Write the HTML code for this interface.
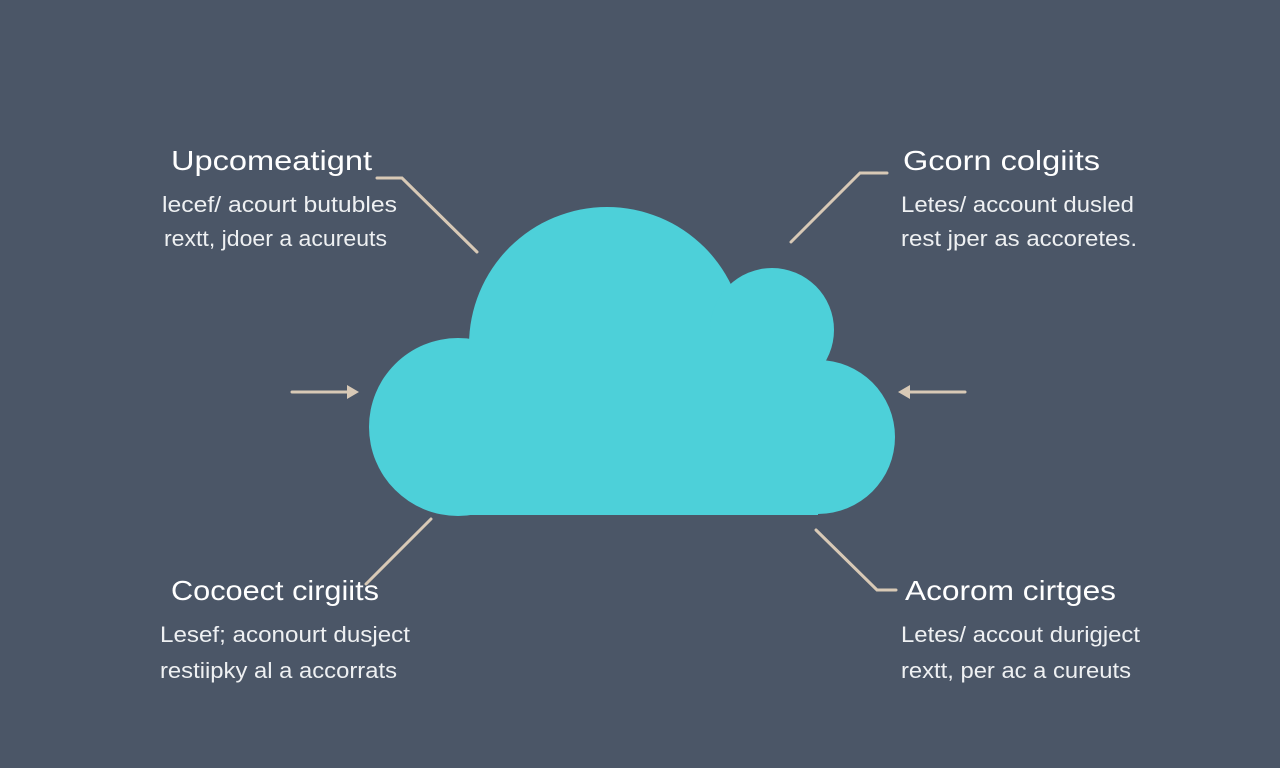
<!DOCTYPE html>
<html><head><meta charset="utf-8"><style>
html,body{margin:0;padding:0;width:1280px;height:768px;overflow:hidden;background:#4b5667;}
svg{display:block}
text{font-family:"Liberation Sans",sans-serif;}
</style></head><body>
<svg width="1280" height="768" viewBox="0 0 1280 768">
<rect width="1280" height="768" fill="#4b5667"/>
<g fill="#4dd0d9">
<circle cx="458" cy="427" r="89"/>
<circle cx="607" cy="345" r="138"/>
<circle cx="772" cy="330" r="62"/>
<circle cx="818" cy="437" r="77"/>
<rect x="458" y="340" width="360" height="175"/>
<rect x="470" y="330" width="340" height="100"/>
</g>
<g stroke="#d8c9b6" stroke-width="3" fill="none" stroke-linecap="round">
<polyline points="377,178 402,178 477,252"/>
<polyline points="887,173 860,173 791,242"/>
<line x1="292" y1="392" x2="350" y2="392"/>
<line x1="965" y1="392" x2="906" y2="392"/>
<line x1="431" y1="519" x2="366" y2="584"/>
<polyline points="816,530 877,590 896,590"/>
</g>
<g fill="#d8c9b6">
<polygon points="359,392 347,385 347,399"/>
<polygon points="898,392 910,385 910,399"/>
</g>
<g fill="#ffffff" font-size="28" lengthAdjust="spacingAndGlyphs">
<text x="171" y="170" textLength="201" lengthAdjust="spacingAndGlyphs">Upcomeatignt</text>
<text x="903" y="170" textLength="197" lengthAdjust="spacingAndGlyphs">Gcorn colgiits</text>
<text x="171" y="600" textLength="208" lengthAdjust="spacingAndGlyphs">Cocoect cirgiits</text>
<text x="905" y="600" textLength="211" lengthAdjust="spacingAndGlyphs">Acorom cirtges</text>
</g>
<g fill="#eef0f2" font-size="22">
<text x="162" y="212" textLength="235" lengthAdjust="spacingAndGlyphs">lecef/ acourt butubles</text>
<text x="164" y="246" textLength="223" lengthAdjust="spacingAndGlyphs">rextt, jdoer a acureuts</text>
<text x="901" y="212" textLength="233" lengthAdjust="spacingAndGlyphs">Letes/ account dusled</text>
<text x="901" y="246" textLength="236" lengthAdjust="spacingAndGlyphs">rest jper as accoretes.</text>
<text x="160" y="642" textLength="250" lengthAdjust="spacingAndGlyphs">Lesef; aconourt dusject</text>
<text x="160" y="678" textLength="237" lengthAdjust="spacingAndGlyphs">restiipky al a accorrats</text>
<text x="901" y="642" textLength="239" lengthAdjust="spacingAndGlyphs">Letes/ accout durigject</text>
<text x="901" y="678" textLength="230" lengthAdjust="spacingAndGlyphs">rextt, per ac a cureuts</text>
</g>
</svg>
</body></html>
